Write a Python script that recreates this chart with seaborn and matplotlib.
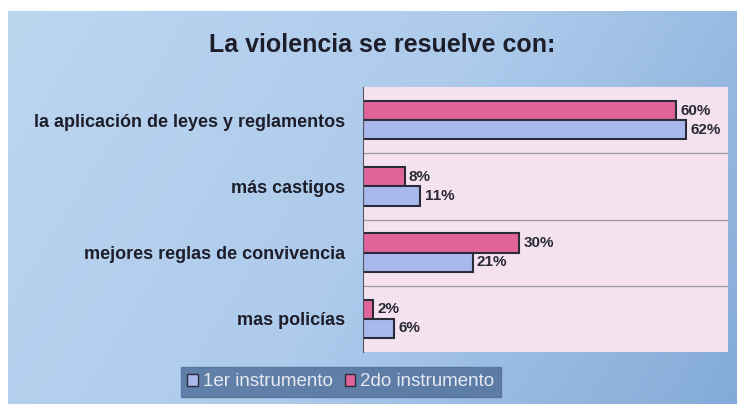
import numpy as np
import pandas as pd
import matplotlib
matplotlib.use("Agg")
import matplotlib.pyplot as plt
import matplotlib.colors as mcolors
from matplotlib.patches import Patch
import seaborn as sns

# Data
categories = ["la aplicación de leyes y reglamentos", "más castigos",
              "mejores reglas de convivencia", "mas policías"]
first_instr = [62, 11, 21, 6]
second_instr = [60, 8, 30, 2]
series_names = ["1er instrumento", "2do instrumento"]

df = pd.DataFrame({
    "categoria": categories * 2,
    "valor": first_instr + second_instr,
    "serie": [series_names[0]] * 4 + [series_names[1]] * 4,
})

sns.set_style("white")
plt.rcParams["font.family"] = ["Liberation Sans", "DejaVu Sans"]

fig = plt.figure(figsize=(7.37, 4.04), dpi=100)
fig.patch.set_facecolor("white")

# gradient background panel
bg = fig.add_axes([8 / 737, 0, 1 - 8 / 737, 1 - 11 / 404])
bg.set_axis_off()
xx, yy = np.meshgrid(np.linspace(0, 1, 200), np.linspace(0, 1, 120))
grad = 0.75 * xx + 0.25 * yy
cmap = mcolors.LinearSegmentedColormap.from_list("bg", ["#bcd6f0", "#aecbec", "#84abd8"])
bg.imshow(grad, cmap=cmap, aspect="auto", extent=[0, 1, 0, 1], origin="upper")

# plot area
ax = fig.add_axes([363 / 737, 1 - 352 / 404, 365 / 737, 265 / 404])
ax.set_facecolor("#f4e3ee")

palette = {series_names[0]: "#a9b8ec", series_names[1]: "#e0649a"}
sns.barplot(data=df, x="valor", y="categoria", hue="serie",
            hue_order=[series_names[1], series_names[0]], order=categories,
            palette=palette, orient="h", width=0.58, ax=ax,
            edgecolor="#2b2b3a", linewidth=1.5, saturation=1, legend=False)

ax.set_xlim(0, 70)
ax.set_ylim(3.5, -0.5)
ax.set_xticks([])
ax.set_xlabel("")
ax.set_ylabel("")
for y in [0.5, 1.5, 2.5]:
    ax.axhline(y, color="#9a9aa6", lw=0.9)
for s in ["top", "right", "bottom"]:
    ax.spines[s].set_visible(False)
ax.spines["left"].set_color("#555566")
ax.tick_params(axis="y", length=0, pad=13)
for lab in ax.get_yticklabels():
    lab.set_fontweight("bold")
    lab.set_fontsize(13)
    lab.set_color("#1e1e2a")

for cont in ax.containers:
    ax.bar_label(cont, fmt="%g%%", padding=3, fontsize=11, fontweight="bold",
                 color="#2a2a36")

fig.text(382 / 737, 1 - 45 / 404, "La violencia se resuelve con:", ha="center",
         va="center", fontsize=18, fontweight="bold", color="#1e1e2a")

handles = [Patch(facecolor=palette[n], edgecolor="#2b2b3a") for n in series_names]
leg = fig.legend(handles, series_names, loc="center", bbox_to_anchor=(341 / 737, 1 - 382 / 404),
                 ncol=2, frameon=True, fontsize=13.5, handlelength=0.55, handleheight=0.55,
                 handletextpad=0.3, columnspacing=0.6, borderpad=0.35, borderaxespad=0,
                 fancybox=False)
leg.get_frame().set_facecolor("#4d6d98")
leg.get_frame().set_edgecolor("#4d6d98")
for t in leg.get_texts():
    t.set_color("#e6e9f2")

fig.savefig("out.png", dpi=100)
